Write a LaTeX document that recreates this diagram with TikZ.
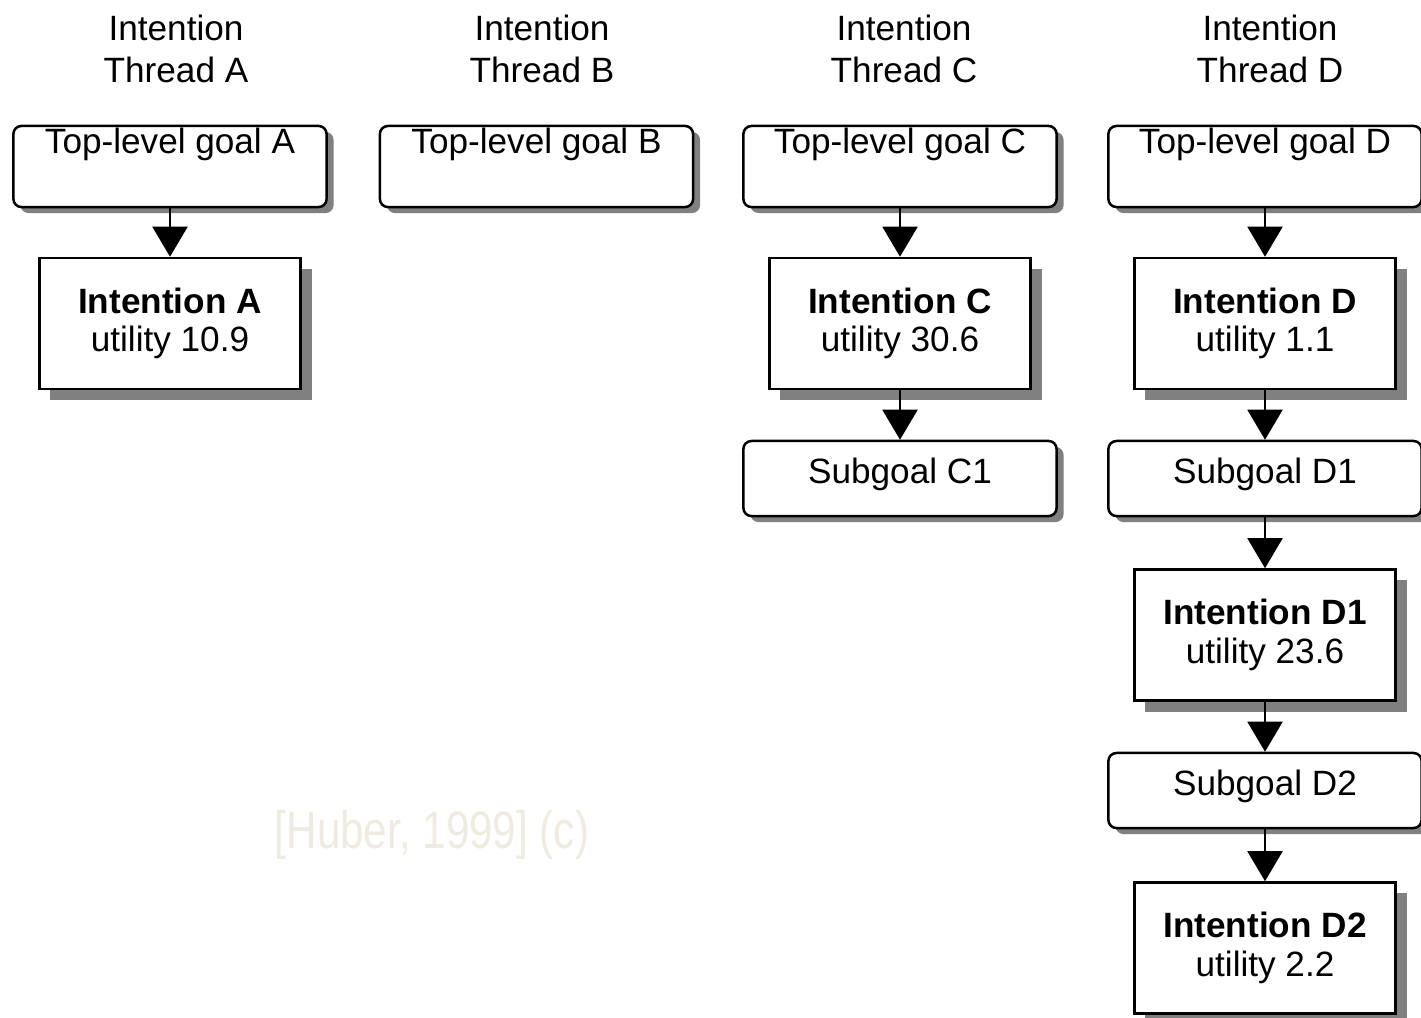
\documentclass[tikz,border=0pt]{standalone}
\usepackage{fontspec}
\setmainfont{Liberation Sans}
\usetikzlibrary{arrows.meta,shadows}
\definecolor{faded}{RGB}{239,235,224}
\tikzset{
  goal/.style={draw, fill=white, rounded corners=0.08cm, line width=0.025cm, inner sep=0pt, minimum width=3.13cm, text height=0.25cm, general shadow={fill=black!50, shadow xshift=0.07cm, shadow yshift=-0.06cm}},
  topgoal/.style={goal, minimum height=0.81cm, text depth=0.52cm},
  subgoal/.style={goal, minimum height=0.75cm, text depth=0.15cm},
  intention/.style={draw, fill=white, line width=0.025cm, align=center, font=\fontsize{10}{11}\selectfont, minimum width=2.61cm, minimum height=1.31cm, general shadow={fill=black!50, shadow xshift=0.11cm, shadow yshift=-0.11cm}},
  thread/.style={align=center},
  link/.style={line width=0.02cm, -{Triangle[width=0.35cm,length=0.3cm]}}
}
\begin{document}
\begin{tikzpicture}[x=0.01cm, y=-0.01cm, font=\fontsize{10}{12}\selectfont]
  \useasboundingbox (0,0) rectangle (1421,1017);

  \foreach \t/\x in {A/176,B/542,C/904,D/1270} {
    \node[thread] (title\t) at (\x,49) {Intention\\Thread \t};
  }

  \foreach \t/\x in {A/170,B/536.5,C/900,D/1265} {
    \node[topgoal] (top\t) at (\x,166.5) {Top-level goal \t};
  }

  \node[intention] (intA) at (170,323.5) {\textbf{Intention A}\\utility 10.9};
  \node[intention] (intC) at (900,323.5) {\textbf{Intention C}\\utility 30.6};
  \node[intention] (intD) at (1265,323.5) {\textbf{Intention D}\\utility 1.1};
  \node[subgoal] (subC1) at (900,478.5) {Subgoal C1};
  \node[subgoal] (subD1) at (1265,478.5) {Subgoal D1};
  \node[intention] (intD1) at (1265,635) {\textbf{Intention D1}\\utility 23.6};
  \node[subgoal] (subD2) at (1265,790.5) {Subgoal D2};
  \node[intention] (intD2) at (1265,948) {\textbf{Intention D2}\\utility 2.2};

  \node[text=faded, font=\fontsize{15}{18}\selectfont] (credit) at (432,835) {\scalebox{0.8}[1]{[Huber, 1999] (c)}};

  \draw[link] (topA) -- (intA);
  \draw[link] (topC) -- (intC);
  \draw[link] (intC) -- (subC1);
  \draw[link] (topD) -- (intD);
  \draw[link] (intD) -- (subD1);
  \draw[link] (subD1) -- (intD1);
  \draw[link] (intD1) -- (subD2);
  \draw[link] (subD2) -- (intD2);
\end{tikzpicture}
\end{document}
